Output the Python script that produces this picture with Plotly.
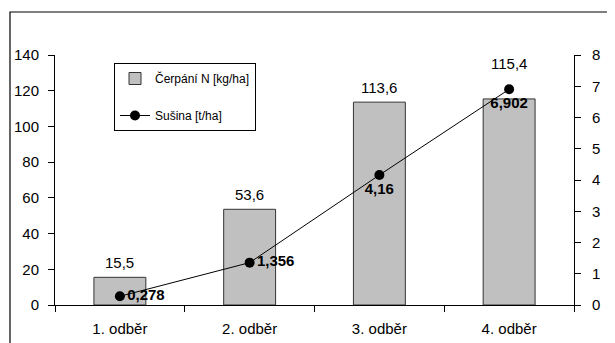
import plotly.graph_objects as go

categories = ["1. odběr", "2. odběr", "3. odběr", "4. odběr"]
cerpani_n = [15.5, 53.6, 113.6, 115.4]
susina = [0.278, 1.356, 4.16, 6.902]

FONT = "Arial, Liberation Sans, sans-serif"

# page body has an 8px default margin; compensate
OFF = 8
W, H = 615 - OFF, 343 - OFF
L, R, T, B = 55 - OFF, 41, 55 - OFF, 38
PW, PH = W - L - R, H - T - B


def fmt(v):
    return str(v).replace(".", ",")


def px(xp):  # page x -> paper fraction
    return (xp - OFF - L) / PW


def py(yp):  # page y -> paper fraction
    return (H - B - (yp - OFF)) / PH


fig = go.Figure()
fig.add_trace(go.Bar(
    x=categories, y=cerpani_n, name="Čerpání N [kg/ha]",
    marker=dict(color="#C0C0C0", line=dict(color="#333333", width=1)),
    width=0.4, legendgroup="a", yaxis="y",
))
fig.add_trace(go.Scatter(
    x=categories, y=susina, name="Sušina [t/ha]", yaxis="y2",
    mode="lines+markers+text",
    line=dict(color="black", width=1),
    marker=dict(color="black", size=10, symbol="circle"),
    text=[fmt(v) for v in susina],
    textposition=["middle right", "middle right", "bottom center", "bottom center"],
    textfont=dict(family=FONT, size=15, color="black", weight="bold"),
    legendgroup="b",
))

label_shift = [15, 15, 15, 35]
for c, v, s in zip(categories, cerpani_n, label_shift):
    fig.add_annotation(x=c, y=v, yref="y", text=fmt(v), showarrow=False,
                       yshift=s, font=dict(family=FONT, size=15, color="black"))

# outer chart frame
fig.add_shape(type="rect", xref="paper", yref="paper",
              x0=px(10), x1=px(640), y0=py(380), y1=py(12),
              line=dict(color="black", width=1.2), layer="below")

fig.update_layout(
    width=W, height=H,
    margin=dict(l=L, r=R, t=T, b=B, autoexpand=False),
    paper_bgcolor="white", plot_bgcolor="white",
    font=dict(family=FONT, size=15, color="black"),
    xaxis=dict(type="category", showline=True, linecolor="black", linewidth=1,
               ticks="outside", tickson="boundaries", ticklen=6, tickcolor="black",
               ticklabelstandoff=10, showgrid=False, zeroline=False),
    yaxis=dict(range=[0, 140], dtick=20, showline=True, linecolor="black", linewidth=1,
               ticks="outside", ticklen=6, tickcolor="black", showgrid=False,
               zeroline=False, ticklabelstandoff=6),
    yaxis2=dict(range=[0, 8], dtick=1, overlaying="y", side="right", showline=True,
                linecolor="black", linewidth=1, ticks="outside", ticklen=6,
                tickcolor="black", showgrid=False, zeroline=False, ticklabelstandoff=8),
    showlegend=True,
    legend=dict(x=px(114), y=py(63), xanchor="left", yanchor="top",
                bgcolor="white", bordercolor="black", borderwidth=1,
                font=dict(family=FONT, size=12, color="black"),
                tracegroupgap=18, traceorder="grouped"),
)

fig.write_html("out.html")
